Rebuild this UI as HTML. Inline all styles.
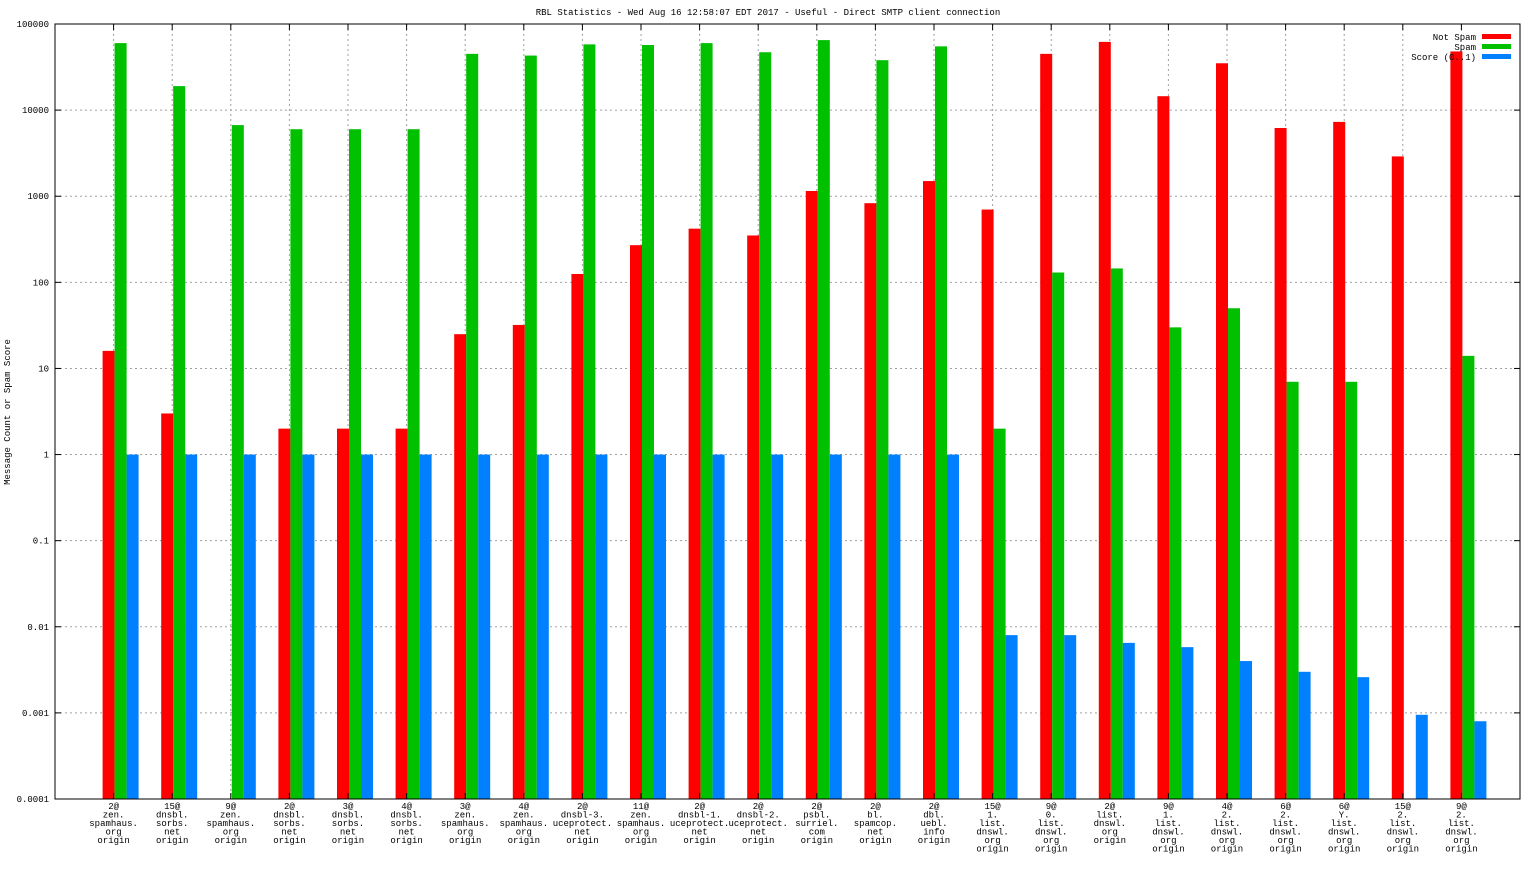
<!DOCTYPE html>
<html><head><meta charset="utf-8"><style>
body{margin:0;background:#fff}
svg text{font-family:"Liberation Mono","DejaVu Sans Mono",monospace;font-size:9px;fill:#000}
</style></head><body>
<svg id="chart" width="1536" height="864" xmlns="http://www.w3.org/2000/svg">
<text x="768" y="15" text-anchor="middle">RBL Statistics - Wed Aug 16 12:58:07 EDT 2017 - Useful - Direct SMTP client connection</text>
<text transform="translate(10,412) rotate(-90)" text-anchor="middle">Message Count or Spam Score</text>
<g id="grid"></g><g id="bars"></g><g id="axes"></g>
<g>
<text x="1476" y="40" text-anchor="end">Not Spam</text>
<rect x="1482" y="34" width="29" height="5" fill="#ff0000"/>
<text x="1476" y="50" text-anchor="end">Spam</text>
<rect x="1482" y="44" width="29" height="5" fill="#00c000"/>
<text x="1476" y="60" text-anchor="end">Score (0..1)</text>
<rect x="1482" y="54" width="29" height="5" fill="#0080ff"/>
</g>
</svg>
<script>
const categories=[["2@","zen.","spamhaus.","org","origin"],["15@","dnsbl.","sorbs.","net","origin"],["9@","zen.","spamhaus.","org","origin"],["2@","dnsbl.","sorbs.","net","origin"],["3@","dnsbl.","sorbs.","net","origin"],["4@","dnsbl.","sorbs.","net","origin"],["3@","zen.","spamhaus.","org","origin"],["4@","zen.","spamhaus.","org","origin"],["2@","dnsbl-3.","uceprotect.","net","origin"],["11@","zen.","spamhaus.","org","origin"],["2@","dnsbl-1.","uceprotect.","net","origin"],["2@","dnsbl-2.","uceprotect.","net","origin"],["2@","psbl.","surriel.","com","origin"],["2@","bl.","spamcop.","net","origin"],["2@","dbl.","uebl.","info","origin"],["15@","1.","list.","dnswl.","org","origin"],["9@","0.","list.","dnswl.","org","origin"],["2@","list.","dnswl.","org","origin"],["9@","1.","list.","dnswl.","org","origin"],["4@","2.","list.","dnswl.","org","origin"],["6@","2.","list.","dnswl.","org","origin"],["6@","Y.","list.","dnswl.","org","origin"],["15@","2.","list.","dnswl.","org","origin"],["9@","2.","list.","dnswl.","org","origin"]];
const notSpam=[16,3,0,2,2,2,25,32,125,270,420,350,1150,830,1500,700,45000,62000,14500,35000,6200,7300,2900,48000];
const spam=[60000,19000,6700,6000,6000,6000,45000,43000,58000,57000,60000,47000,65000,38000,55000,2,130,145,30,50,7,7,0,14];
const score=[1,1,1,1,1,1,1,1,1,1,1,1,1,1,1,0.008,0.008,0.0065,0.0058,0.004,0.003,0.0026,0.00095,0.0008];
const yTicks=[0.0001,0.001,0.01,0.1,1,10,100,1000,10000,100000];
const yLabels=["0.0001","0.001","0.01","0.1","1","10","100","1000","10000","100000"];
const L=55,R=1520,T=24,B=799,NS="http://www.w3.org/2000/svg";
const yS=v=>B-(Math.log10(v)+4)/9*(B-T);
const gw=(R-L)/(categories.length+1);
const xS=i=>L+(i+1)*gw;
function mk(p,t,a){const e=document.createElementNS(NS,t);for(const k in a)e.setAttribute(k,a[k]);document.getElementById(p).appendChild(e);return e;}
yTicks.forEach((v,i)=>{const y=yS(v);
 if(i>0&&i<yTicks.length-1){const g=mk('grid','line',{x1:L,x2:R,y1:y,y2:y,stroke:'#a0a0a0','stroke-dasharray':'2,3','stroke-width':1});
 
 }
 mk('axes','line',{x1:L,x2:L+6,y1:y,y2:y,stroke:'#000'});mk('axes','line',{x1:R-6,x2:R,y1:y,y2:y,stroke:'#000'});
 const t=mk('axes','text',{x:L-6,y:y+3,'text-anchor':'end'});t.textContent=yLabels[i];
 
 });
const series=[[notSpam,'#ff0000',-11,'not-spam'],[spam,'#00c000',1,'spam'],[score,'#0080ff',13,'score']];
categories.forEach((c,i)=>{const cx=xS(i);
 const g=mk('grid','line',{x1:cx,x2:cx,y1:T,y2:B,stroke:'#a0a0a0','stroke-dasharray':'2,3'});
 
 
 series.forEach(s=>{const v=s[0][i];if(v>0){const y=yS(v);
  const r=mk('bars','rect',{x:cx+s[2],y:y,width:12,height:B-y,fill:s[1]});
  
  }});
 const t=mk('axes','text',{x:cx,y:B+10,'text-anchor':'middle'});
 
 
 c.forEach((ln,j)=>{const ts=document.createElementNS(NS,'tspan');ts.setAttribute('x',cx);ts.setAttribute('dy',j?8.5:0);ts.textContent=ln;t.appendChild(ts);});
 mk('axes','line',{x1:cx,x2:cx,y1:B,y2:B-6,stroke:'#000'});mk('axes','line',{x1:cx,x2:cx,y1:T,y2:T+6,stroke:'#000'});
});
const f=mk('axes','rect',{x:L,y:T,width:R-L,height:B-T,fill:'none',stroke:'#000','stroke-width':1});


</script>
</body></html>
